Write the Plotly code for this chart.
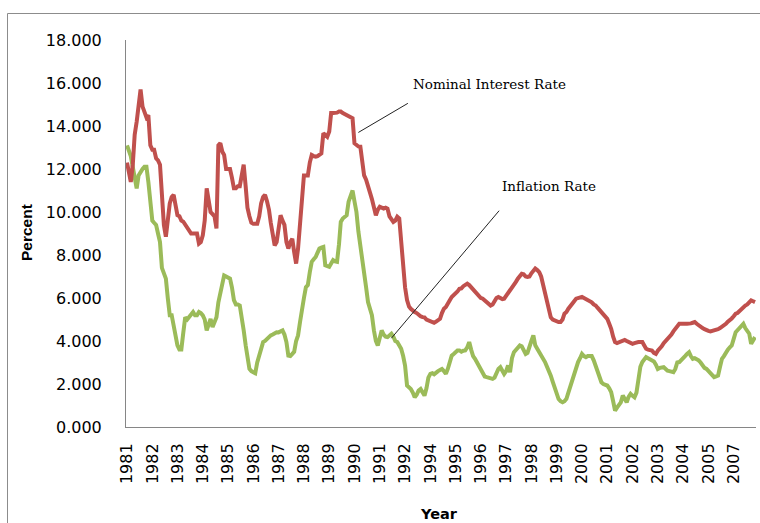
import pandas as pd
import plotly.graph_objects as go

# Monthly data, Jan 1981 - Dec 2007
NOMINAL = [
    12.3, 11.8, 11.4, 12.2, 13.6, 14.2, 14.8, 15.7, 14.9, 14.7, 14.4, 14.5,   # 1981
    13.1, 12.9, 12.9, 12.5, 12.4, 12.2, 10.4, 9.4, 8.85, 9.5, 10.4, 10.7,     # 1982
    10.8, 10.3, 9.85, 9.8, 9.6, 9.55, 9.4, 9.23, 9.1, 9.0, 9.0, 9.0,          # 1983
    9.0, 8.53, 8.6, 8.92, 9.6, 11.1, 10.4, 10.0, 9.9, 9.8, 9.23, 13.1,        # 1984
    13.2, 12.8, 12.65, 12.0, 12.0, 12.0, 11.6, 11.1, 11.1, 11.2, 11.2, 11.6,  # 1985
    12.2, 11.2, 10.2, 9.8, 9.5, 9.45, 9.45, 9.45, 9.8, 10.4, 10.7, 10.8,      # 1986
    10.5, 10.1, 9.5, 9.0, 8.45, 8.6, 9.3, 9.85, 9.6, 9.4, 8.6, 8.3,           # 1987
    8.6, 8.76, 8.14, 7.6, 8.3, 9.4, 10.2, 11.7, 11.7, 11.7, 12.3, 12.65,      # 1988
    12.6, 12.57, 12.6, 12.7, 12.73, 13.66, 13.6, 13.5, 13.74, 14.6, 14.6, 14.6,  # 1989
    14.62, 14.67, 14.67, 14.6, 14.55, 14.5, 14.5, 14.4, 14.36, 13.2, 13.1, 13.05,  # 1990
    13.04, 12.4, 11.7, 11.5, 11.25, 10.9, 10.6, 10.3, 9.85, 10.1, 10.24, 10.2,  # 1991
    10.16, 10.2, 10.16, 9.8, 9.7, 9.54, 9.6, 9.78, 9.7, 8.5, 7.52, 6.5,       # 1992
    5.9, 5.6, 5.5, 5.4, 5.35, 5.3, 5.2, 5.15, 5.11, 5.1, 5.0, 4.95,           # 1993
    4.9, 4.88, 4.85, 4.9, 4.95, 5.03, 5.3, 5.5, 5.58, 5.7, 5.9, 6.05,         # 1994
    6.12, 6.2, 6.3, 6.43, 6.45, 6.55, 6.6, 6.67, 6.6, 6.5, 6.43, 6.35,        # 1995
    6.2, 6.1, 6.0, 5.97, 5.9, 5.8, 5.7, 5.65, 5.7, 5.85, 6.0, 6.05,           # 1996
    6.0, 5.95, 5.97, 6.1, 6.2, 6.35, 6.43, 6.6, 6.75, 6.9, 7.0, 7.13,         # 1997
    7.1, 7.0, 6.98, 7.0, 7.15, 7.3, 7.37, 7.3, 7.2, 7.0, 6.6, 6.28,           # 1998
    5.8, 5.3, 5.1, 5.0, 4.96, 4.9, 4.88, 4.88, 5.0, 5.27, 5.35, 5.5,          # 1999
    5.6, 5.7, 5.85, 5.97, 6.0, 6.03, 6.05, 6.0, 5.95, 5.9, 5.89, 5.8,         # 2000
    5.7, 5.65, 5.55, 5.45, 5.35, 5.2, 5.1, 5.03, 4.8, 4.57, 4.2, 3.95,        # 2001
    3.9, 3.95, 3.95, 4.0, 4.05, 4.0, 3.95, 3.87, 3.87, 3.9, 3.95, 3.95,       # 2002
    3.95, 3.95, 3.8, 3.64, 3.6, 3.58, 3.56, 3.45, 3.4, 3.55, 3.64, 3.75,      # 2003
    3.9, 4.0, 4.1, 4.18, 4.3, 4.45, 4.57, 4.7, 4.8, 4.8, 4.78, 4.8,           # 2004
    4.8, 4.8, 4.82, 4.85, 4.88, 4.8, 4.72, 4.65, 4.6, 4.55, 4.49, 4.47,       # 2005
    4.45, 4.47, 4.49, 4.5, 4.55, 4.6, 4.65, 4.7, 4.8, 4.9, 4.96, 5.05,        # 2006
    5.15, 5.27, 5.3, 5.4, 5.5, 5.58, 5.65, 5.7, 5.8, 5.89, 5.85, 5.81,        # 2007
]

INFLATION = [
    13.1, 12.8, 12.6, 12.1, 11.5, 11.1, 11.7, 11.9, 12.0, 12.1, 12.1, 11.4,   # 1981
    10.5, 9.6, 9.5, 9.4, 9.0, 8.6, 7.4, 7.1, 6.9, 6.0, 5.2, 5.2,              # 1982
    4.7, 4.2, 3.8, 3.6, 3.6, 4.4, 5.1, 5.0, 5.1, 5.2, 5.35, 5.2,              # 1983
    5.2, 5.35, 5.3, 5.19, 5.0, 4.49, 4.8, 5.03, 4.65, 4.9, 5.11, 5.8,         # 1984
    6.2, 6.7, 7.05, 7.0, 6.95, 6.9, 6.5, 5.9, 5.7, 5.7, 5.65, 5.2,            # 1985
    4.5, 3.8, 3.2, 2.7, 2.6, 2.55, 2.5, 3.0, 3.3, 3.6, 3.95, 4.0,             # 1986
    4.1, 4.2, 4.26, 4.3, 4.35, 4.41, 4.4, 4.45, 4.49, 4.3, 3.95, 3.32,        # 1987
    3.3, 3.4, 3.5, 4.0, 4.26, 4.88, 5.6, 6.0, 6.5, 6.6, 7.2, 7.68,            # 1988
    7.8, 7.91, 8.1, 8.3, 8.35, 8.38, 7.52, 7.5, 7.45, 7.6, 7.76, 7.7,         # 1989
    7.68, 8.5, 9.54, 9.7, 9.8, 9.85, 10.48, 10.8, 11.0, 10.5, 10.0, 9.1,      # 1990
    8.5, 7.9, 7.37, 6.5, 5.81, 5.5, 5.2, 4.5, 4.0, 3.79, 4.2, 4.49,           # 1991
    4.3, 4.2, 4.18, 4.3, 4.34, 4.2, 4.0, 3.95, 3.8, 3.64, 3.3, 2.86,          # 1992
    1.93, 1.85, 1.77, 1.6, 1.38, 1.5, 1.7, 1.77, 1.6, 1.46, 1.8, 2.3,         # 1993
    2.47, 2.5, 2.45, 2.55, 2.6, 2.65, 2.7, 2.6, 2.47, 2.7, 3.0, 3.32,         # 1994
    3.4, 3.5, 3.56, 3.56, 3.5, 3.55, 3.56, 3.7, 3.95, 3.6, 3.3, 3.17,         # 1995
    3.0, 2.85, 2.7, 2.5, 2.35, 2.32, 2.3, 2.25, 2.24, 2.3, 2.5, 2.7,          # 1996
    2.78, 2.6, 2.47, 2.6, 2.86, 2.55, 3.2, 3.48, 3.6, 3.7, 3.79, 3.75,        # 1997
    3.6, 3.4, 3.45, 3.79, 4.0, 4.26, 3.8, 3.64, 3.5, 3.32, 3.2, 3.02,         # 1998
    2.8, 2.6, 2.39, 2.1, 1.8, 1.46, 1.3, 1.2, 1.15, 1.2, 1.31, 1.6,           # 1999
    1.9, 2.08, 2.4, 2.8, 3.02, 3.2, 3.4, 3.3, 3.25, 3.3, 3.32, 3.3,           # 2000
    3.1, 2.8, 2.6, 2.3, 2.08, 2.0, 1.95, 1.93, 1.8, 1.62, 1.2, 0.76,          # 2001
    0.9, 1.0, 1.15, 1.46, 1.31, 1.15, 1.4, 1.54, 1.45, 1.38, 1.6, 2.24,       # 2002
    2.8, 3.02, 3.1, 3.25, 3.2, 3.15, 3.1, 3.05, 2.9, 2.7, 2.75, 2.78,         # 2003
    2.78, 2.7, 2.62, 2.6, 2.55, 2.55, 2.7, 3.0, 3.02, 3.1, 3.17, 3.3,         # 2004
    3.4, 3.48, 3.3, 3.17, 3.2, 3.17, 3.1, 3.0, 2.86, 2.75, 2.7, 2.62,         # 2005
    2.5, 2.4, 2.32, 2.35, 2.39, 2.8, 3.17, 3.3, 3.48, 3.6, 3.7, 3.79,         # 2006
    4.1, 4.41, 4.5, 4.6, 4.7, 4.8, 4.6, 4.49, 4.34, 3.87, 4.0, 4.18,          # 2007
]

TICK_LABELS = ["1981", "1982", "1983", "1984", "1985", "1986", "1987", "1988",
               "1989", "1990", "1991", "1992", "1994", "1995", "1996", "1997",
               "1998", "1999", "2000", "2001", "2002", "2003", "2004", "2005",
               "2007"]
LABEL_EVERY = 13  # months between category labels

months = pd.date_range("1981-01-01", periods=len(NOMINAL), freq="MS")
tickvals = list(months[::LABEL_EVERY])[:len(TICK_LABELS)]

RED = "#C0504D"
GREEN = "#9BBB59"

fig = go.Figure()
fig.add_trace(go.Scatter(x=months, y=INFLATION, mode="lines", name="Inflation Rate",
                         line=dict(color=GREEN, width=4), hoverinfo="skip"))
fig.add_trace(go.Scatter(x=months, y=NOMINAL, mode="lines", name="Nominal Interest Rate",
                         line=dict(color=RED, width=4), hoverinfo="skip"))

axis_font = dict(family="DejaVu Sans, sans-serif", size=16, color="#000000")

fig.update_layout(
    width=760, height=523,
    margin=dict(l=126, r=4, t=40, b=96, autoexpand=False),
    paper_bgcolor="white", plot_bgcolor="white",
    showlegend=False,
    xaxis=dict(
        range=[pd.Timestamp("1980-12-16"), pd.Timestamp("2007-12-16")],
        tickmode="array", tickvals=tickvals, ticktext=TICK_LABELS,
        tickangle=-90, tickfont=axis_font,
        showgrid=False, zeroline=False,
        showline=True, linecolor="#868686", linewidth=1,
        ticks="outside", ticklen=0, ticklabelstandoff=9,
    ),
    yaxis=dict(
        range=[0, 18], dtick=2, tickformat=".3f",
        tickfont=axis_font,
        showgrid=False, zeroline=False,
        showline=True, linecolor="#868686", linewidth=1,
        ticks="outside", ticklen=0, ticklabelstandoff=20,
    ),
    shapes=[
        dict(type="rect", xref="paper", yref="paper",
             x0=(7.5 - 126) / 630, x1=1.2, y0=-0.5, y1=(427 - 13.5) / 387,
             line=dict(color="#8C8C8C", width=1), fillcolor="rgba(0,0,0,0)", layer="below"),
    ],
)

ann_font = dict(family="DejaVu Serif, serif", size=13.5, color="#000000")

fig.add_annotation(text="Nominal Interest Rate", xref="paper", yref="paper",
                   x=(411 - 126) / 630, y=(427 - 84) / 387, xanchor="left", yanchor="middle",
                   showarrow=False, font=ann_font)
fig.add_annotation(text="Inflation Rate", xref="paper", yref="paper",
                   x=(500 - 126) / 630, y=(427 - 186) / 387, xanchor="left", yanchor="middle",
                   showarrow=False, font=ann_font)

# leader lines from the labels to the series
fig.add_annotation(text="", x=months[119], y=13.7, xref="x", yref="y",
                   ax=51, ay=-30, showarrow=True, arrowhead=0, arrowwidth=1,
                   arrowcolor="#222222", standoff=0, startstandoff=0)
fig.add_annotation(text="", x=months[136], y=4.13, xref="x", yref="y",
                   ax=109, ay=-129, showarrow=True, arrowhead=0, arrowwidth=1,
                   arrowcolor="#222222", standoff=0, startstandoff=0)

fig.add_annotation(text="<b>Year</b>", xref="paper", yref="paper",
                   x=(439 - 126) / 630, y=(427 - 514) / 387, xanchor="center", yanchor="middle",
                   showarrow=False,
                   font=dict(family="DejaVu Sans, sans-serif", size=14.5, color="#000000"))
fig.add_annotation(text="<b>Percent</b>", xref="paper", yref="paper",
                   x=(27 - 126) / 630, y=(427 - 233) / 387, xanchor="center", yanchor="middle",
                   textangle=-90, showarrow=False,
                   font=dict(family="Liberation Sans, Arial, sans-serif", size=15.5, color="#000000"))

fig.write_html(
    "out.html",
    config={"displayModeBar": False},
    post_script="document.body.style.margin='0';document.body.style.overflow='hidden';",
)
